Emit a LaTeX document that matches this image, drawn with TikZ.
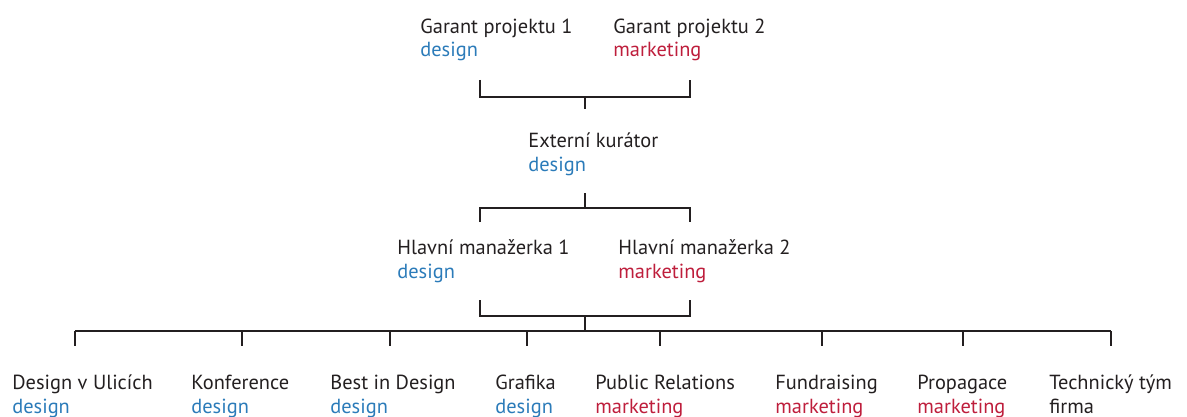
\documentclass[tikz,border=0pt]{standalone}
\usepackage{fontspec}
\setmainfont{PT Sans}
\begin{document}
\begin{tikzpicture}[x=0.5pt, y=-0.5pt,
                    role/.style = {
                        anchor=base west, inner sep=0pt, align=left, text=ink,
                        font=\fontsize{10.2}{11.8}\selectfont
                    },
                    link/.style = {draw=ink, line width=1.4pt}
                ]
                    % Colours of the departments
                    \definecolor{ink}{HTML}{231F20}
                    \definecolor{colorDesign}{HTML}{2B7BB9}
                    \definecolor{colorMarketing}{HTML}{BE1E3C}

                    \useasboundingbox (0,0) rectangle (1187,417);

                    % Garanti (base = last line)
                    \node[role] (G1) at (420,57) {Garant projektu 1\\\textcolor{colorDesign}{design}};
                    \node[role] (G2) at (613,57) {Garant projektu 2\\\textcolor{colorMarketing}{marketing}};

                    % Externi kurator
                    \node[role] (K) at (528,171) {Extern\'{i} kur\'{a}tor\\\textcolor{colorDesign}{design}};

                    % Hlavni manazerky
                    \node[role] (H1) at (397,278) {Hlavn\'{i} mana\v{z}erka 1\\\textcolor{colorDesign}{design}};
                    \node[role] (H2) at (618,278) {Hlavn\'{i} mana\v{z}erka 2\\\textcolor{colorMarketing}{marketing}};

                    % Tymy
                    \node[role] (T1) at (12,413)   {Design v Ulic\'{i}ch\\\textcolor{colorDesign}{design}};
                    \node[role] (T2) at (191,413)  {Konference\\\textcolor{colorDesign}{design}};
                    \node[role] (T3) at (330,413)  {Best in Design\\\textcolor{colorDesign}{design}};
                    \node[role] (T4) at (495,413)  {Grafika\\\textcolor{colorDesign}{design}};
                    \node[role] (T5) at (595,413)  {Public Relations\\\textcolor{colorMarketing}{marketing}};
                    \node[role] (T6) at (775,413)  {Fundraising\\\textcolor{colorMarketing}{marketing}};
                    \node[role] (T7) at (917,413)  {Propagace\\\textcolor{colorMarketing}{marketing}};
                    \node[role] (T8) at (1049,413) {Technick\'{y} t\'{y}m\\firma};

                    % Svorky
                    \coordinate (g1) at (480,80);
                    \coordinate (g2) at (690,80);
                    \coordinate (gm) at (585,97);
                    \coordinate (ks) at (585,109);
                    \coordinate (kt) at (585,193);
                    \coordinate (km) at (585,208);
                    \coordinate (h1t) at (480,222);
                    \coordinate (h2t) at (690,222);
                    \coordinate (h1) at (480,300);
                    \coordinate (h2) at (690,300);
                    \coordinate (hm) at (585,316);
                    \coordinate (tm) at (585,331);

                    % G1-G2 -> K
                    \draw[link] (g1) |- (gm) -| (g2);
                    \draw[link] (gm) -- (ks);

                    % K -> H1-H2
                    \draw[link] (kt) -- (km);
                    \draw[link] (h1t) |- (km) -| (h2t);

                    % H1-H2 -> tymy
                    \draw[link] (h1) |- (hm) -| (h2);
                    \draw[link] (hm) -- (tm);
                    \draw[link] (75,331) -- (1111,331);
                    \foreach \x in {75,242,390,527,660,822,963,1111}
                        \draw[link] (\x,331) -- (\x,346);
                \end{tikzpicture}
\end{document}
